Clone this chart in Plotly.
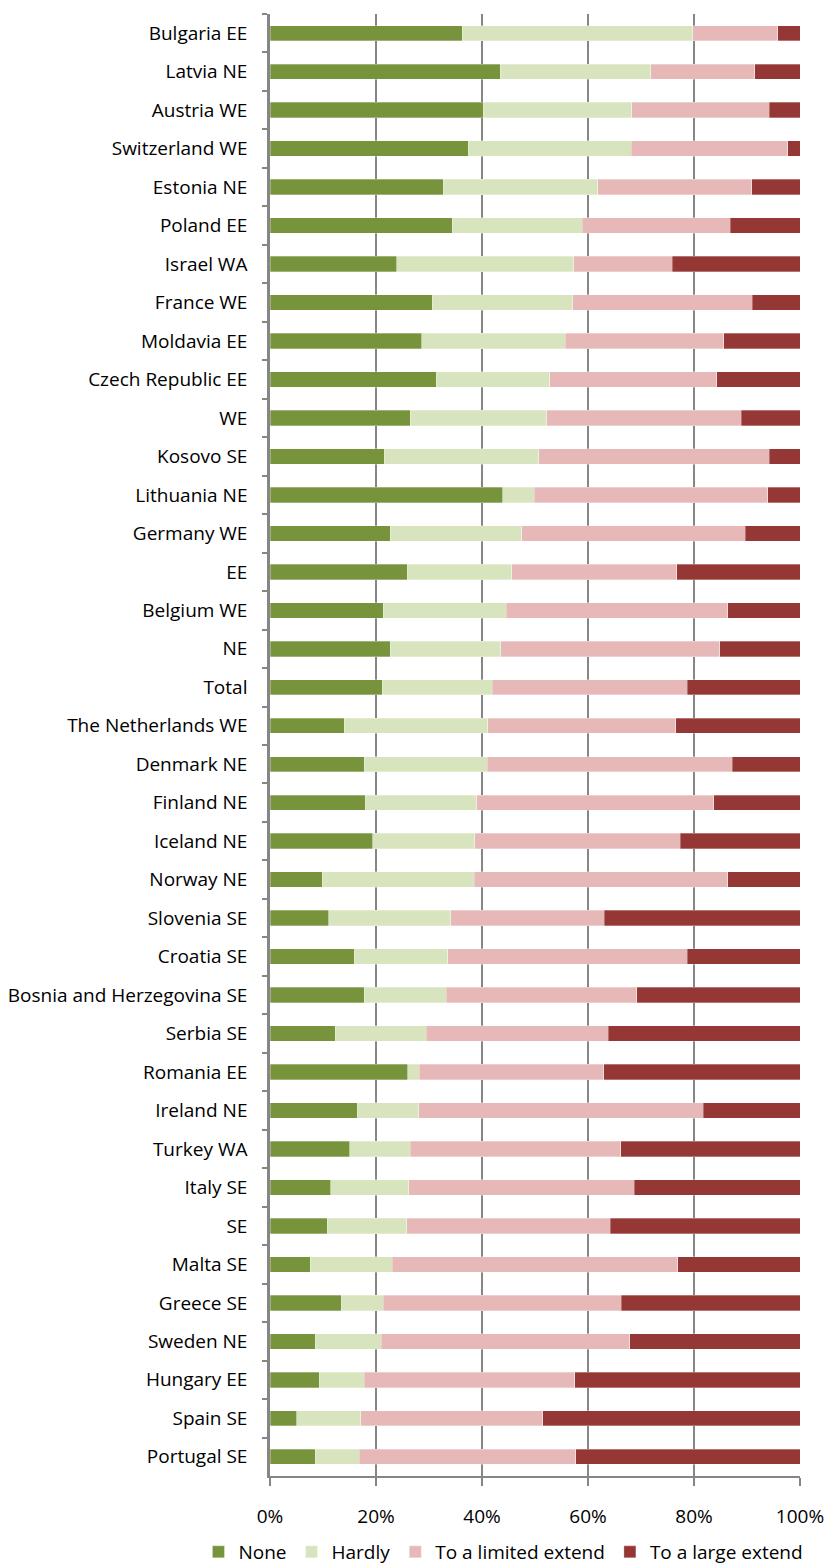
import plotly.graph_objects as go

categories = ["Bulgaria EE", "Latvia NE", "Austria WE", "Switzerland WE", "Estonia NE", "Poland EE",
              "Israel WA", "France WE", "Moldavia EE", "Czech Republic EE", "WE", "Kosovo SE",
              "Lithuania NE", "Germany WE", "EE", "Belgium WE", "NE", "Total", "The Netherlands WE",
              "Denmark NE", "Finland NE", "Iceland NE", "Norway NE", "Slovenia SE", "Croatia SE",
              "Bosnia and Herzegovina SE", "Serbia SE", "Romania EE", "Ireland NE", "Turkey WA",
              "Italy SE", "SE", "Malta SE", "Greece SE", "Sweden NE", "Hungary EE", "Spain SE",
              "Portugal SE"]

none_vals = [36.3, 43.4, 40.2, 37.4, 32.7, 34.4, 23.9, 30.6, 28.6, 31.4, 26.5, 21.6, 43.9, 22.7,
             25.9, 21.4, 22.7, 21.2, 14.0, 17.8, 18.0, 19.4, 9.9, 11.1, 15.9, 17.8, 12.3, 26.0,
             16.5, 15.0, 11.5, 10.8, 7.6, 13.4, 8.5, 9.3, 5.0, 8.5]
hardly_vals = [43.5, 28.4, 28.1, 30.8, 29.1, 24.5, 33.4, 26.5, 27.1, 21.4, 25.7, 29.1, 6.0, 24.8,
               19.7, 23.2, 20.8, 20.7, 27.1, 23.2, 21.0, 19.2, 28.6, 23.0, 17.6, 15.5, 17.2, 2.2,
               11.6, 11.5, 14.7, 15.0, 15.5, 8.0, 12.5, 8.5, 12.1, 8.3]
limited_vals = [16.0, 19.7, 25.9, 29.5, 29.1, 27.9, 18.6, 33.9, 29.9, 31.5, 36.7, 43.5, 44.0, 42.2,
                31.1, 41.8, 41.4, 36.8, 35.5, 46.2, 44.7, 38.8, 47.9, 29.0, 45.2, 35.9, 34.3, 34.8,
                53.6, 39.7, 42.5, 38.4, 53.8, 44.9, 46.9, 39.7, 34.4, 40.9]
large_vals = [4.2, 8.5, 5.8, 2.3, 9.1, 13.2, 24.1, 9.0, 14.4, 15.7, 11.1, 5.8, 6.1, 10.3, 23.3,
              13.6, 15.1, 21.3, 23.4, 12.8, 16.3, 22.6, 13.6, 36.9, 21.3, 30.8, 36.2, 37.0, 18.3,
              33.8, 31.3, 35.8, 23.1, 33.7, 32.1, 42.5, 48.5, 42.3]

series = [("None", none_vals, "#77933C"),
          ("Hardly", hardly_vals, "#D7E4BD"),
          ("To a limited extend", limited_vals, "#E6B9B8"),
          ("To a large extend", large_vals, "#953735")]

FONT = "Open Sans, Carlito, Calibri, sans-serif"
FS = 19

fig = go.Figure()
for name, vals, color in series:
    fig.add_trace(go.Bar(
        y=categories, x=vals, name=name, orientation="h",
        marker=dict(color=color, line=dict(color="rgba(255,255,255,0.6)", width=0.5)),
    ))

fig.update_layout(
    barmode="stack",
    barnorm="percent",
    bargap=0.6,
    width=826, height=1564,
    margin=dict(l=270, r=26, t=14, b=88, autoexpand=False),
    paper_bgcolor="white", plot_bgcolor="white",
    font=dict(family=FONT, size=FS, color="black"),
    legend=dict(orientation="h", x=-0.135, xanchor="left", y=-0.039, yanchor="top",
                font=dict(family=FONT, size=FS), traceorder="normal",
                itemwidth=30, tracegroupgap=0),
    xaxis=dict(range=[0, 100], tickvals=[0, 20, 40, 60, 80, 100],
               ticktext=["0%", "20%", "40%", "60%", "80%", "100%"],
               showgrid=True, gridcolor="#868686", gridwidth=1.5,
               showline=True, linecolor="#868686", linewidth=2,
               ticks="outside", ticklen=8, tickcolor="#868686", tickwidth=1.5,
               ticklabelstandoff=14, automargin=False,
               zeroline=False, tickfont=dict(size=FS)),
    yaxis=dict(autorange="reversed", type="category",
               showline=True, linecolor="#868686", linewidth=2.5,
               ticks="outside", tickson="boundaries", ticklen=5, tickcolor="#868686", tickwidth=2,
               showgrid=False, ticklabelstandoff=16, automargin=False, tickfont=dict(size=FS)),
)

fig.write_html("out.html", config={"displayModeBar": False},
               post_script="document.body.style.margin='0';")
